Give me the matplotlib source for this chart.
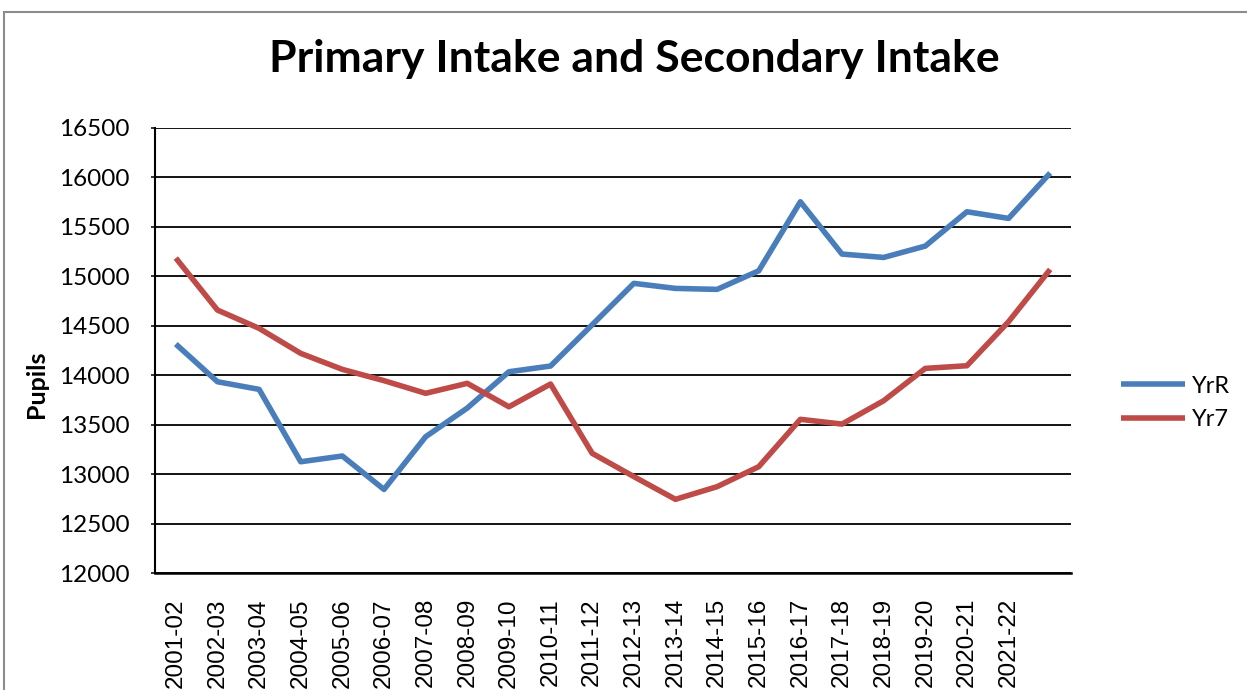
import numpy as np
import matplotlib.pyplot as plt
import matplotlib.transforms as mtransforms
from matplotlib.patches import Rectangle

# data
years = ["2001-02", "2002-03", "2003-04", "2004-05", "2005-06", "2006-07",
         "2007-08", "2008-09", "2009-10", "2010-11", "2011-12", "2012-13",
         "2013-14", "2014-15", "2015-16", "2016-17", "2017-18", "2018-19",
         "2019-20", "2020-21", "2021-22", "2022-23"]
shown_labels = years[:21]  # last category has no label in the original

yr_r = [14315, 13934, 13857, 13125, 13183, 12845, 13378, 13668, 14035, 14093,
        14510, 14929, 14878, 14868, 15056, 15754, 15225, 15191, 15306, 15653,
        15586, 16045]
yr_7 = [15185, 14659, 14474, 14221, 14059, 13945, 13817, 13918, 13681, 13911,
        13210, 12975, 12745, 12873, 13075, 13554, 13506, 13742, 14069, 14096,
        14541, 15070]

blue = "#4A7EBB"
red = "#BE4B48"

W, H = 1247, 690
fig = plt.figure(figsize=(W / 100, H / 100), dpi=100)
ax = fig.add_axes([155 / W, 1 - 573 / H, (1071 - 155) / W, (573 - 128) / H])

x = np.arange(len(years))
ax.plot(x, yr_r, color=blue, lw=4, label="YrR", solid_capstyle="butt")
ax.plot(x, yr_7, color=red, lw=4, label="Yr7", solid_capstyle="butt")

ax.set_xlim(-0.5, len(years) - 0.5)
ax.set_ylim(12000, 16500)
ax.set_yticks(np.arange(12000, 16501, 500))
ax.yaxis.grid(True, color="black", lw=1.3)
ax.set_axisbelow(True)

ax.set_xticks(np.arange(len(shown_labels)))
ax.set_xticklabels(shown_labels, rotation=90, fontsize=17.5,
                   family="Liberation Sans", va="top")
offset = mtransforms.ScaledTranslation(5 / 100, 0, fig.dpi_scale_trans)
for lab in ax.get_xticklabels():
    lab.set_transform(lab.get_transform() + offset)
ax.tick_params(axis="x", length=0, pad=18)
ax.tick_params(axis="y", length=3, width=1.1, pad=15, labelsize=17.5)
for lab in ax.get_yticklabels():
    lab.set_family("Lato")

for s in ["top", "right"]:
    ax.spines[s].set_visible(False)
ax.spines["left"].set_linewidth(1.5)
ax.spines["bottom"].set_linewidth(1.8)

ax.set_ylabel("Pupils", fontsize=18, fontweight="bold", family="Lato")
ax.yaxis.set_label_coords((48 - 155) / 916, (573 - 384) / 445)

leg = ax.legend(loc="center left", bbox_to_anchor=(1121 / W, 1 - 403 / H),
                bbox_transform=fig.transFigure, frameon=False,
                prop={"family": "Lato", "size": 17}, handlelength=2.7,
                handletextpad=0.3, borderpad=0, borderaxespad=0,
                labelspacing=0.55)

fig.text(634 / W, 1 - 72 / H, "Primary Intake and Secondary Intake",
         ha="center", va="baseline", fontsize=32, fontweight="bold",
         family="Lato")

fig.add_artist(Rectangle((4 / W, -0.1), 2, 1.1 - 12 / H, fill=False,
                         edgecolor="#8c8c8c", lw=1.5,
                         transform=fig.transFigure))

fig.savefig("out.png", dpi=100)
